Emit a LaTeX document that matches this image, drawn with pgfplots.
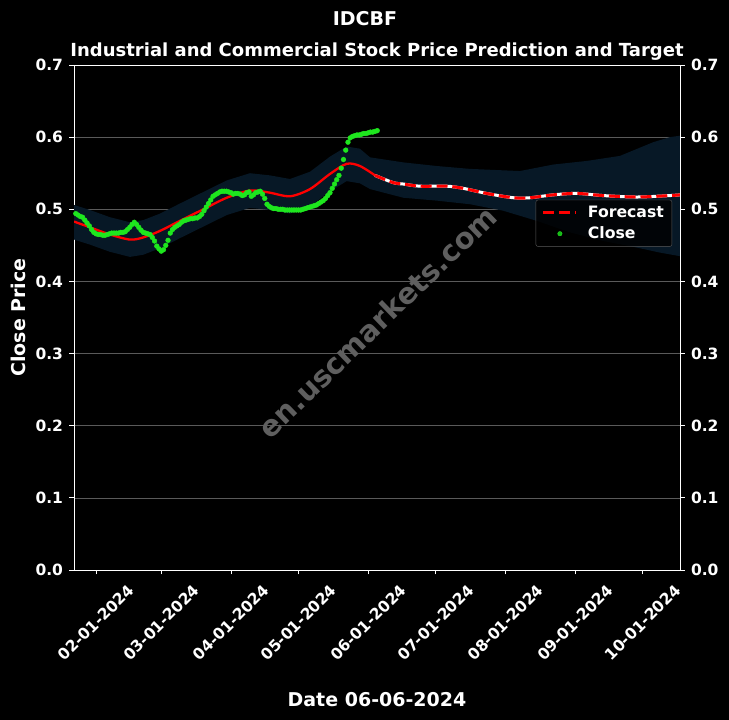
\documentclass[border=0pt]{standalone}
\usepackage{fontspec}
\setmainfont{DejaVu Sans}
\usepackage{xcolor}
\usepackage{pgfplots}
\usepackage{pgfplotstable}
\pgfplotsset{compat=1.18}
\usepgfplotslibrary{fillbetween}

\definecolor{band}{HTML}{071826}
\definecolor{closegreen}{HTML}{1EE61E}
\definecolor{gridgray}{HTML}{5A5A5A}
\definecolor{wmgray}{HTML}{5F5F5F}
\newcommand{\fs}[1]{\fontsize{#1}{#1}\selectfont\bfseries}
\pagecolor{black}

% close price, x = day of 2024 (0 = Jan 1)
\pgfplotstableread{
day close
22 0.494
23 0.492
24 0.490
25 0.489
26 0.485
27 0.481
28 0.477
29 0.472
30 0.468
31 0.466
32 0.465
33 0.465
34 0.464
35 0.464
36 0.465
37 0.466
38 0.467
39 0.467
40 0.467
41 0.467
42 0.468
43 0.468
44 0.469
45 0.472
46 0.475
47 0.479
48 0.482
49 0.479
50 0.475
51 0.471
52 0.468
53 0.467
54 0.466
55 0.465
56 0.461
57 0.456
58 0.449
59 0.445
60 0.442
61 0.444
62 0.450
63 0.457
64 0.467
65 0.472
66 0.475
67 0.477
68 0.479
69 0.482
70 0.484
71 0.485
72 0.486
73 0.487
74 0.487
75 0.488
76 0.488
77 0.490
78 0.493
79 0.498
80 0.503
81 0.508
82 0.513
83 0.518
84 0.520
85 0.522
86 0.524
87 0.525
88 0.525
89 0.525
90 0.524
91 0.523
92 0.521
93 0.522
94 0.522
95 0.521
96 0.519
97 0.520
98 0.523
99 0.524
100 0.518
101 0.520
102 0.523
103 0.524
104 0.525
105 0.521
106 0.515
107 0.507
108 0.504
109 0.502
110 0.501
111 0.501
112 0.500
113 0.500
114 0.500
115 0.499
116 0.499
117 0.499
118 0.499
119 0.499
120 0.499
121 0.499
122 0.499
123 0.500
124 0.501
125 0.502
126 0.503
127 0.504
128 0.505
129 0.506
130 0.508
131 0.510
132 0.512
133 0.515
134 0.519
135 0.523
136 0.529
137 0.535
138 0.541
139 0.547
140 0.557
141 0.569
142 0.582
143 0.593
144 0.599
145 0.601
146 0.602
147 0.603
148 0.603
149 0.604
150 0.605
151 0.605
152 0.606
153 0.607
154 0.607
155 0.608
156 0.609
}\closedata

\begin{document}
\begin{tikzpicture}
\begin{axis}[
  at={(0pt,0pt)}, anchor=south west,
  scale only axis, width=606pt, height=505pt,
  xmin=21.2, xmax=290.6, ymin=0, ymax=0.7,
  axis line style={white, line width=0.8pt},
  tick align=outside, xtick pos=bottom, ytick pos=left,
  major tick length=4.5pt,
  major tick style={white, line width=0.8pt},
  xtick={31,60,91,121,152,182,213,244,274},
  xticklabels={02-01-2024,03-01-2024,04-01-2024,05-01-2024,06-01-2024,07-01-2024,08-01-2024,09-01-2024,10-01-2024},
  xticklabel style={font=\fs{15.5}, text=white, anchor=center, inner sep=0pt, yshift=-48pt, rotate=45},
  ytick={0,0.1,0.2,0.3,0.4,0.5,0.6,0.7},
  yticklabel style={font=\fs{15.5}, text=white, xshift=-3pt, /pgf/number format/.cd, fixed, fixed zerofill, precision=1, assume math mode=true},
  ymajorgrids, grid style={gridgray, line width=0.7pt},
  title={Industrial and Commercial Stock Price Prediction and Target},
  title style={at={(axis description cs:0.5,1.0139)}, anchor=center, font=\fs{18}, text=white},
  xlabel={Date 06-06-2024},
  xlabel style={at={(axis description cs:0.5,-0.2574)}, anchor=center, font=\fs{19}, text=white},
  ylabel={Close Price},
  ylabel style={at={(axis description cs:-0.0924,0.5)}, anchor=center, font=\fs{19}, text=white},
  legend style={at={(rel axis cs:0.987,0.733)}, anchor=north east, fill=black, fill opacity=0.8,
    text opacity=1, draw opacity=1, draw=gridgray, rounded corners=2pt, text=white,
    font=\fs{15.7}, inner xsep=6pt, inner ysep=4pt, row sep=4pt,
    /tikz/every odd column/.append style={column sep=8pt}},
  legend cell align=left,
]
% confidence band
\addplot[name path=up, draw=none, forget plot] coordinates {
 (21.2,0.506) (28.3,0.499) (37.2,0.489) (46.1,0.482) (52,0.485) (59.4,0.494) (68.3,0.508)
 (78.7,0.524) (89.1,0.540) (99.4,0.550) (108.3,0.547) (117.2,0.542) (126.1,0.552) (135,0.573)
 (142.4,0.587) (148.3,0.584) (152.8,0.572) (167.6,0.565) (182.4,0.560) (197.2,0.556)
 (219.4,0.553) (234.2,0.562) (249.1,0.567) (263.9,0.574) (278.7,0.593) (286.1,0.600) (290.6,0.602)};
\addplot[name path=lo, draw=none, forget plot] coordinates {
 (21.2,0.458) (28.3,0.451) (37.2,0.441) (46.1,0.434) (52,0.437) (59.4,0.446) (68.3,0.460)
 (78.7,0.476) (89.1,0.492) (99.4,0.502) (108.3,0.499) (117.2,0.494) (126.1,0.504) (135,0.525)
 (142.4,0.539) (148.3,0.536) (152.8,0.528) (167.6,0.516) (182.4,0.512) (197.2,0.507)
 (212,0.498) (226.9,0.484) (241.7,0.468) (256.5,0.456) (271.3,0.447) (281.6,0.440) (290.6,0.435)};
\addplot[band, forget plot] fill between[of=up and lo];

\node[rotate=44, text=wmgray, font=\fs{29}] at (axis cs:156,0.344) {en.uscmarkets.com};

% fitted line (past)
\addplot[red, line width=2.3pt, smooth, forget plot] coordinates {
 (21.2,0.483) (28.3,0.475) (37.2,0.465) (46.1,0.458) (52,0.461) (59.4,0.470) (68.3,0.484)
 (78.7,0.500) (89.1,0.516) (99.4,0.526) (108.3,0.523) (117.2,0.518) (126.1,0.528) (135,0.549)
 (142.4,0.563) (148.3,0.560) (155,0.547)};
% forecast (future)
\addplot[white, line width=3pt, smooth, forget plot] coordinates {
 (155,0.547) (163.1,0.537) (167.6,0.535) (175,0.532) (186.9,0.532) (194.3,0.529) (204.6,0.522)
 (216.5,0.516) (223.9,0.516) (234.2,0.520) (244.6,0.522) (256.4,0.519) (271.3,0.517) (286.1,0.519) (290.6,0.520)};
\addplot[red, line width=3pt, dash pattern=on 11pt off 4.8pt, smooth, forget plot] coordinates {
 (155,0.547) (163.1,0.537) (167.6,0.535) (175,0.532) (186.9,0.532) (194.3,0.529) (204.6,0.522)
 (216.5,0.516) (223.9,0.516) (234.2,0.520) (244.6,0.522) (256.4,0.519) (271.3,0.517) (286.1,0.519) (290.6,0.520)};
% close
\addplot[only marks, mark=*, mark size=2.4pt, closegreen, forget plot] table[x=day, y=close] {\closedata};

\addlegendimage{legend image code/.code={\draw[red, line width=3pt, dash pattern=on 11pt off 4.8pt] (0pt,0pt) -- (33pt,0pt);}}
\addlegendentry{Forecast}
\addlegendimage{legend image code/.code={\fill[closegreen] (16.5pt,0pt) circle (2.2pt);}}
\addlegendentry{Close}
\end{axis}

\begin{axis}[
  at={(0pt,0pt)}, anchor=south west,
  scale only axis, width=606pt, height=505pt,
  xmin=21.2, xmax=290.6, ymin=0, ymax=0.7,
  axis x line=none, axis y line*=right,
  axis line style={white, line width=0.8pt},
  tick align=outside, major tick length=4.5pt,
  major tick style={white, line width=0.8pt},
  ytick={0,0.1,0.2,0.3,0.4,0.5,0.6,0.7},
  yticklabel style={font=\fs{15.5}, text=white, xshift=3pt, /pgf/number format/.cd, fixed, fixed zerofill, precision=1, assume math mode=true},
]
\addplot[draw=none] coordinates {(100,0.5)};
\end{axis}

\node[font=\fs{19}, text=white] at (291pt,551pt) {IDCBF};
\pgfresetboundingbox
\useasboundingbox (-74pt,-150pt) rectangle (655pt,570pt);
\end{tikzpicture}
\end{document}
